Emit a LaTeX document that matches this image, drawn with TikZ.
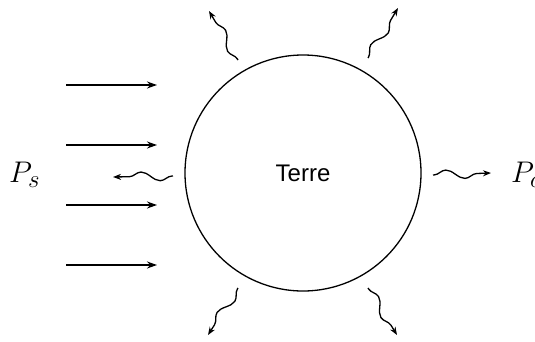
\documentclass[tikz,border=0pt]{standalone}
\usepackage{fontspec}
\setsansfont{Liberation Sans}
\usetikzlibrary{arrows.meta,positioning,decorations.pathmorphing}

\begin{document}
\begin{tikzpicture}[
  x=1pt, y=1pt,
  >=Stealth,
  earth/.style={draw, circle, line width=1.3pt, minimum size=236pt, inner sep=0pt, font=\sffamily\fontsize{24}{28}\selectfont},
  ray/.style={line width=1.6pt, -{Stealth[length=10pt, width=7pt]}},
  wave/.style={line width=1.3pt, -{Stealth[length=8pt, width=6pt]}, decorate,
    decoration={snake, amplitude=4.5pt, segment length=38pt, pre length=1pt, post length=8pt}},
  lbl/.style={font=\Huge},
]
\useasboundingbox (0,0) rectangle (535,341);

\node[earth] (terre) at (303,168) {Terre};

% rayonnement solaire
\foreach \y [count=\i] in {256,196,136,76} {
  \coordinate (s\i) at (66,\y);
  \coordinate (e\i) at (157,\y);
  \draw[ray] (s\i) -- (e\i);
}

% rayonnement emis
\coordinate (wl) at (173,165);
\coordinate (wlt) at (113,164);
\coordinate (wr) at (433,166);
\coordinate (wrt) at (491,168);
\coordinate (tl) at (238,281);
\coordinate (tlt) at (209,330);
\coordinate (tr) at (368,283);
\coordinate (trt) at (398,333);
\coordinate (bl) at (238,53);
\coordinate (blt) at (208,6);
\coordinate (br) at (368,53);
\coordinate (brt) at (397,6);

\draw[wave] (wl) -- (wlt);
\draw[wave] (wr) -- (wrt);
\draw[wave] (tl) -- (tlt);
\draw[wave] (tr) -- (trt);
\draw[wave] (bl) -- (blt);
\draw[wave] (br) -- (brt);

\node[lbl, anchor=west, inner sep=0pt] (ps) at (9,166) {\scalebox{1.2}{$P_s$}};
\node[lbl, anchor=west, inner sep=0pt] (pc) at (511,166) {\scalebox{1.2}{$P_c$}};

\end{tikzpicture}
\end{document}
